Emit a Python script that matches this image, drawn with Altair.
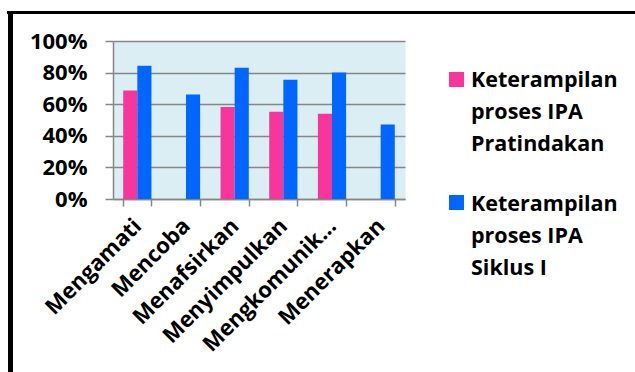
import altair as alt
import pandas as pd

categories = ["Mengamati", "Mencoba", "Menafsirkan", "Menyimpulkan", "Mengkomunikasikan", "Menerapkan"]
series = ["Keterampilan proses IPA Pratindakan", "Keterampilan proses IPA Siklus I"]
pratindakan = [0.687, 0.0, 0.583, 0.552, 0.539, 0.0]
siklus = [0.843, 0.661, 0.830, 0.754, 0.800, 0.472]
colors = ["#F7359B", "#0066FF"]
legend_lines = [["Keterampilan", "proses IPA", "Pratindakan"], ["Keterampilan", "proses IPA", "Siklus I"]]
y_ticks = [0, 0.2, 0.4, 0.6, 0.8, 1.0]

FONT = "Open Sans"

rows = []
for c, a, b in zip(categories, pratindakan, siklus):
    rows.append({"cat": c, "series": series[0], "value": a})
    rows.append({"cat": c, "series": series[1], "value": b})
df = pd.DataFrame(rows)

bars = alt.Chart(df).mark_bar().encode(
    x=alt.X("cat:N", sort=categories, title=None,
            scale=alt.Scale(paddingInner=0.42, paddingOuter=0.21),
            axis=alt.Axis(labelAngle=-45, labelAlign="right", labelBaseline="middle",
                          labelPadding=16, tickBand="extent", tickSize=7,
                          labelFontSize=22, labelFont=FONT, labelFontWeight="bold",
                          labelColor="black", domainColor="#868686", tickColor="#868686",
                          domainWidth=1.5, tickWidth=1.5, labelLimit=400,
                          labelExpr="length(datum.label) > 14 ? slice(datum.label, 0, 11) + '...' : datum.label")),
    xOffset=alt.XOffset("series:N", sort=series),
    y=alt.Y("value:Q", title=None,
            scale=alt.Scale(domain=[0, 1], nice=False),
            axis=alt.Axis(values=y_ticks, format="%", tickSize=8, labelPadding=18,
                          labelFontSize=22, labelFont=FONT, labelFontWeight="bold",
                          labelColor="black", gridColor="#868686", gridWidth=1.5,
                          domainColor="#868686", tickColor="#868686",
                          domainWidth=1.5, tickWidth=1.5)),
    color=alt.Color("series:N", scale=alt.Scale(domain=series, range=colors), legend=None),
)

one = pd.DataFrame({"k": [0]})

frame_top = alt.Chart(one).mark_rule(color="black", strokeWidth=3).encode(
    x=alt.value(-106), x2=alt.value(600), y=alt.value(-28.5))
frame_left = alt.Chart(one).mark_rule(color="black", strokeWidth=5).encode(
    x=alt.value(-102.5), y=alt.value(-30), y2=alt.value(400))

legend_layers = []
sq_y = [31, 154]
txt_y = [45.5, 169.5]
for i in range(2):
    d = pd.DataFrame({"label": ["\n".join(legend_lines[i])]})
    legend_layers.append(
        alt.Chart(d).mark_rect(color=colors[i]).encode(
            x=alt.value(336), x2=alt.value(351), y=alt.value(sq_y[i]), y2=alt.value(sq_y[i] + 15)))
    legend_layers.append(
        alt.Chart(d).mark_text(lineBreak="\n", lineHeight=32, align="left", baseline="alphabetic",
                               font=FONT, fontWeight="bold", fontSize=21.5, color="black").encode(
            text="label:N", x=alt.value(358), y=alt.value(txt_y[i])))

chart = alt.layer(bars, frame_top, frame_left, *legend_layers).properties(
    width=292, height=158,
    autosize=alt.AutoSizeParams(type="none"),
    padding={"left": 113, "top": 41, "right": 230, "bottom": 173},
    background="white",
).configure_view(fill="#DBEEF4", stroke="transparent")

chart.save("out.html", embed_options={"renderer": "svg", "actions": False})
